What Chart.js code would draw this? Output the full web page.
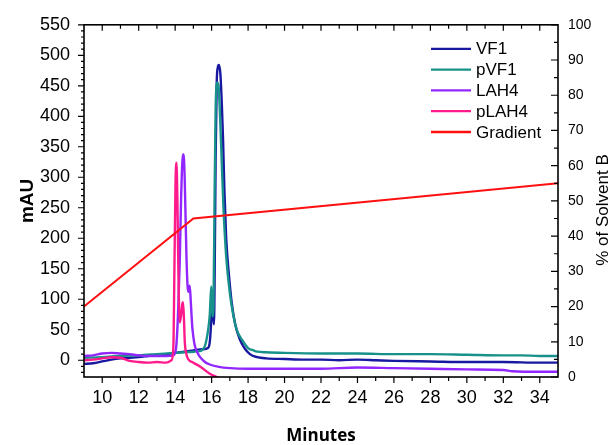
<!DOCTYPE html>
<html>
<head>
<meta charset="utf-8">
<script src="https://cdn.jsdelivr.net/npm/chart.js@4"></script>
<style>
  html, body { margin: 0; padding: 0; background: #fff; }
  #wrap { width: 613px; height: 445px; position: relative; }
</style>
</head>
<body>
<div id="wrap"><canvas id="hplcChart"></canvas></div>
<script>
// retention times (minutes) and absorbance (mAU)
var vf1Time = [9, 9.5, 10, 10.5, 11, 11.5, 12, 12.5, 13, 13.5, 14, 14.5, 15, 15.5, 15.8, 15.9, 15.97, 16.02, 16.08, 16.13, 16.17, 16.22, 16.28, 16.34, 16.4, 16.48, 16.56, 16.63, 16.7, 16.8, 16.95, 17.1, 17.3, 17.55, 17.8, 18.1, 18.5, 19, 20, 21, 22, 23, 24, 25, 26, 28, 30, 32, 34, 35]
var vf1Values = [-6, -5, -2, 1, 3, 4, 5, 7, 9, 10, 12, 14, 16, 18, 20, 30, 60, 94, 75, 59, 150, 330, 455, 480, 484, 470, 420, 360, 280, 200, 140, 95, 58, 34, 20, 10, 5, 3, 2, 1, 1, 0, 1, 0, -1, -2, -3, -3, -4, -4]

var pvf1Time = [9, 10, 11, 12, 13, 14, 14.5, 15, 15.3, 15.5, 15.65, 15.8, 15.9, 15.98, 16.04, 16.1, 16.16, 16.22, 16.3, 16.37, 16.45, 16.55, 16.65, 16.8, 17.0, 17.2, 17.4, 17.7, 18.0, 18.3, 18.5, 19, 20, 22, 24, 26, 28, 30, 32, 33, 34, 35]
var pvf1Values = [4, 5, 7, 8, 10, 12, 13, 14, 15, 17, 25, 48, 75, 121, 72, 85, 260, 410, 455, 452, 410, 330, 250, 170, 110, 72, 48, 32, 20, 16, 14, 13, 12, 11, 11, 10, 10, 9, 8, 8, 7, 7]

var lah4Time = [9, 9.5, 10, 10.5, 11, 11.5, 12, 12.5, 13, 13.5, 13.9, 14.05, 14.15, 14.25, 14.33, 14.43, 14.5, 14.56, 14.62, 14.68, 14.73, 14.8, 14.86, 14.93, 15.0, 15.07, 15.2, 15.35, 15.6, 15.9, 16.4, 17, 18, 20, 22, 24, 26, 28, 30, 32, 32.5, 34, 35]
var lah4Values = [7, 8, 11, 12, 11, 10, 8, 7, 7, 7, 8, 20, 70, 160, 270, 338, 320, 250, 170, 122, 112, 122, 95, 58, 38, 25, 14, 6, -2, -7, -11, -13, -14, -14, -14, -12, -13, -14, -15, -16, -18, -19, -19]

var plah4Time = [9, 9.5, 10, 10.5, 11, 11.5, 12, 12.5, 13, 13.5, 13.8, 13.9, 13.96, 14.02, 14.07, 14.12, 14.18, 14.25, 14.33, 14.39, 14.43, 14.48, 14.53, 14.6, 14.71, 15.0, 15.4, 15.9, 16.3, 16.6]
var plah4Values = [0, 1, 3, 5, 4, -1, -3, -4, -3, -4, 0, 20, 150, 290, 324, 270, 140, 62, 75, 92, 95, 70, 29, 12, 2, -4, -11, -22, -28, -33]

// solvent gradient (% of solvent B)
var gradientTime = [9, 15, 35]
var gradientValues = [20, 45, 55]

var xTickValues = [10, 12, 14, 16, 18, 20, 22, 24, 26, 28, 30, 32, 34]
var mauTickValues = [0, 50, 100, 150, 200, 250, 300, 350, 400, 450, 500, 550]
var solventTickValues = [0, 10, 20, 30, 40, 50, 60, 70, 80, 90, 100]

function points(xs, ys) {
    return xs.map(function (t, i) { return { x: t, y: ys[i] } })
}

function trace(label, xs, ys, color, order) {
    return {
        label: label,
        data: points(xs, ys),
        borderColor: color,
        backgroundColor: color,
        borderWidth: 2.4,
        pointRadius: 0,
        cubicInterpolationMode: 'monotone',
        yAxisID: 'y',
        order: order
    }
}

// frame with inner / outer tick marks like the original plot
var axisFrame = {
    id: 'axisFrame',
    afterDraw: function (chart) {
        var c = chart.ctx, a = chart.chartArea
        var sx = chart.scales.x, sy = chart.scales.y, sy1 = chart.scales.y1
        c.save()
        c.strokeStyle = '#000'
        c.lineWidth = 1.6
        c.strokeRect(a.left, a.top, a.right - a.left, a.bottom - a.top)
        c.lineWidth = 1.2
        c.beginPath()
        for (var m = 10; m <= 34; m++) {
            var px = sx.getPixelForValue(m)
            var len = m % 2 === 0 ? 6 : 4
            c.moveTo(px, a.bottom); c.lineTo(px, a.bottom + len)
            c.moveTo(px, a.top); c.lineTo(px, a.top + len)
        }
        for (var v = -20; v <= 550; v += 10) {
            var py = sy.getPixelForValue(v)
            var l2 = v % 50 === 0 ? 6 : 3
            c.moveTo(a.left - l2, py); c.lineTo(a.left, py)
        }
        for (var p = 0; p <= 100; p += 5) {
            var py1 = sy1.getPixelForValue(p)
            var l3 = p % 10 === 0 ? 7 : 4
            c.moveTo(a.right - l3, py1); c.lineTo(a.right, py1)
        }
        c.stroke()

        // right axis title reads bottom to top
        c.fillStyle = '#000'
        c.font = '17px "Liberation Sans", Arial, sans-serif'
        c.textAlign = 'center'
        c.textBaseline = 'middle'
        c.translate(603, 210)
        c.rotate(-Math.PI / 2)
        c.fillText('% of Solvent B', 0, 0)
        c.restore()
    }
}

var insideLegend = {
    id: 'insideLegend',
    afterDraw: function (chart) {
        var c = chart.ctx, a = chart.chartArea
        var x0 = a.right - 127, y0 = a.top + 24
        c.save()
        c.font = '17px "Liberation Sans", Arial, sans-serif'
        c.textBaseline = 'middle'
        c.fillStyle = '#000'
        chart.data.datasets.forEach(function (ds, i) {
            var y = y0 + i * 20.8
            c.strokeStyle = ds.borderColor
            c.lineWidth = 2.3
            c.beginPath()
            c.moveTo(x0, y); c.lineTo(x0 + 40, y)
            c.stroke()
            c.fillText(ds.label, x0 + 45, y + 1)
        })
        c.restore()
    }
}

var ctx = document.getElementById('hplcChart').getContext('2d')
var hplcChart = new Chart(ctx, {
    type: 'line',
    data: {
        datasets: [
            trace('VF1', vf1Time, vf1Values, '#1818a0', 5),
            trace('pVF1', pvf1Time, pvf1Values, '#17918a', 4),
            trace('LAH4', lah4Time, lah4Values, '#9226ff', 3),
            trace('pLAH4', plah4Time, plah4Values, '#ff1a8c', 2),
            {
                label: 'Gradient',
                data: points(gradientTime, gradientValues),
                borderColor: '#ff1010',
                backgroundColor: '#ff1010',
                borderWidth: 2,
                pointRadius: 0,
                tension: 0,
                yAxisID: 'y1',
                order: 1
            }
        ]
    },
    options: {
        responsive: true,
        maintainAspectRatio: false,
        animation: false,
        devicePixelRatio: 1,
        layout: { padding: { top: 24, left: 0, right: 0, bottom: 0 } },
        plugins: {
            legend: { display: false },
            tooltip: { enabled: false }
        },
        scales: {
            x: {
                type: 'linear',
                min: 9,
                max: 35,
                grid: { display: false, drawTicks: false },
                border: { display: false },
                afterBuildTicks: function (s) { s.ticks = xTickValues.map(function (v) { return { value: v } }) },
                afterFit: function (s) { s.height = 68 },
                ticks: {
                    padding: 10,
                    color: '#000',
                    font: { family: '"Liberation Sans", Arial, sans-serif', size: 18 }
                },
                title: {
                    display: true,
                    text: 'Minutes',
                    color: '#000',
                    padding: { top: 0, bottom: 0 },
                    font: { family: '"Open Sans", sans-serif', size: 17, weight: 'bold', lineHeight: 1.0 }
                }
            },
            y: {
                type: 'linear',
                position: 'left',
                min: -27.5,
                max: 550,
                grid: { display: false, drawTicks: false },
                border: { display: false },
                afterBuildTicks: function (s) { s.ticks = mauTickValues.map(function (v) { return { value: v } }) },
                afterFit: function (s) { s.width = 84 },
                ticks: {
                    padding: 14,
                    color: '#000',
                    font: { family: '"Liberation Sans", Arial, sans-serif', size: 18 }
                },
                title: {
                    display: true,
                    text: 'mAU',
                    color: '#000',
                    padding: { top: 16, bottom: 0 },
                    font: { family: '"Liberation Sans", Arial, sans-serif', size: 19, weight: 'bold' }
                }
            },
            y1: {
                type: 'linear',
                position: 'right',
                min: 0,
                max: 100,
                grid: { display: false, drawTicks: false },
                border: { display: false },
                afterBuildTicks: function (s) { s.ticks = solventTickValues.map(function (v) { return { value: v } }) },
                afterFit: function (s) { s.width = 55 },
                ticks: {
                    padding: 10,
                    color: '#000',
                    font: { family: '"Liberation Sans", Arial, sans-serif', size: 14 }
                }
            }
        }
    },
    plugins: [axisFrame, insideLegend]
});
</script>
</body>
</html>
